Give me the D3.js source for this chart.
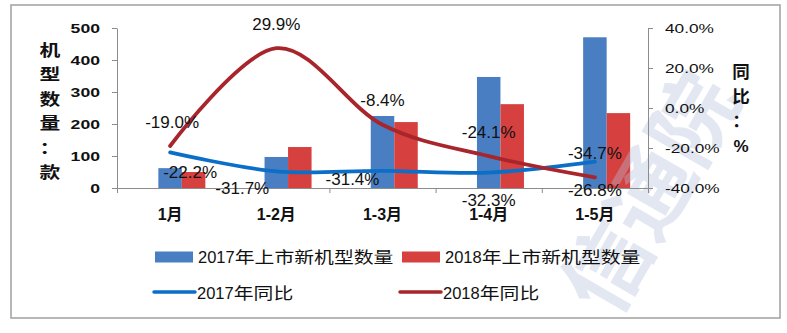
<!DOCTYPE html>
<html>
<head>
<meta charset="utf-8">
<script src="https://cdn.jsdelivr.net/npm/d3@7/dist/d3.min.js"></script>
<style>
  html, body { margin: 0; padding: 0; background: #fff; }
  svg { display: block; }
</style>
</head>
<body>
<svg id="chart" width="787" height="333"></svg>
<script>
// ---------------- data ----------------
const categories = ["1月", "1-2月", "1-3月", "1-4月", "1-5月"];
const models2017 = [62, 97, 225, 347, 471];
const models2018 = [50, 128, 206, 262, 234];
const yoy2017 = [-22.2, -31.7, -31.4, -32.3, -26.8];
const yoy2018 = [-19.0, 29.9, -8.4, -24.1, -34.7];
const leftTicks = [0, 100, 200, 300, 400, 500];
const rightTicks = [-40, -20, 0, 20, 40];
const seriesNames = ["2017年上市新机型数量", "2018年上市新机型数量", "2017年同比", "2018年同比"];
const leftTitle = "机型数量：款";
const rightTitle = "同比：%";

// ---------------- styles ----------------
const C = {
  bar17: "#4a7ec2",
  bar18: "#d6403f",
  line17: "#0b6fc8",
  line18: "#a8262b",
  axis: "#8c8c8c",
  frame: "#a6a6a6",
  text: "#111"
};
const LATIN = "'Liberation Sans', Arial, sans-serif";
const CJK = "'Noto Sans CJK SC', sans-serif";

const svg = d3.select("#chart");

// outer frame
svg.append("rect").attr("x", 11).attr("y", 5).attr("width", 769).attr("height", 313)
  .attr("fill", "#fff").attr("stroke", C.frame).attr("stroke-width", 1.6);

// ---------------- helpers ----------------
const cjkRe = /[\u3000-\u9fff\uff00-\uffef]+|[^\u3000-\u9fff\uff00-\uffef]+/g;
function richText(parent, str, o) {
  const g = parent.append("g").attr("transform", `translate(${o.x},${o.y})`);
  const inner = g.append("g");
  let cursor = 0;
  (str.match(cjkRe) || []).forEach(run => {
    const isCjk = /[\u3000-\u9fff\uff00-\uffef]/.test(run);
    const s = isCjk ? (o.cjkScale || 1) : (o.latinScale || 1);
    const t = inner.append("text")
      .attr("transform", `translate(${cursor},0) scale(${s},1)`)
      .attr("fill", o.fill || C.text)
      .style("font-family", isCjk ? CJK : LATIN)
      .style("font-size", (isCjk ? (o.cjkSize || o.size) : o.size) + "px")
      .style("font-weight", o.weight || "normal")
      .text(run);
    cursor += t.node().getComputedTextLength() * s;
  });
  let shift = 0;
  if (o.anchor === "middle") shift = -cursor / 2;
  else if (o.anchor === "end") shift = -cursor;
  inner.attr("transform", `translate(${shift},0)`);
  return g;
}

// ---------------- scales ----------------
const plot = { left: 117, right: 648, top: 28, bottom: 188 };
const x = d3.scaleBand().domain(categories).range([plot.left, plot.right]).padding(0);
const bw = x.bandwidth();
const xInner = d3.scaleBand().domain(["_", "2017", "2018"]).range([bw * 0.168, bw * 0.832]).padding(0);
const y = d3.scaleLinear().domain([0, 500]).range([plot.bottom, plot.top]);
const y2 = d3.scaleLinear().domain([-40, 40]).range([plot.bottom, plot.top]);
const xEdge = d3.scaleLinear().domain([0, categories.length]).range([plot.left, plot.right]);

// ---------------- bars ----------------
const barG = svg.append("g");
categories.forEach((c, i) => {
  barG.append("rect")
    .attr("x", x(c) + xInner("2017")).attr("width", xInner.bandwidth())
    .attr("y", y(models2017[i])).attr("height", y(0) - y(models2017[i]))
    .attr("fill", C.bar17);
  barG.append("rect")
    .attr("x", x(c) + xInner("2018")).attr("width", xInner.bandwidth())
    .attr("y", y(models2018[i])).attr("height", y(0) - y(models2018[i]))
    .attr("fill", C.bar18);
});

// ---------------- watermark (faint) ----------------
svg.append("text")
  .attr("transform", "translate(645,190) rotate(-60)")
  .attr("text-anchor", "middle")
  .attr("dominant-baseline", "central")
  .style("font-family", CJK).style("font-weight", "bold").style("font-size", "86px")
  .attr("fill", "#b4c2de").attr("opacity", 0.38)
  .text("信通院");

// ---------------- axes ----------------
function styleAxis(g) {
  g.selectAll("path, line").attr("stroke", C.axis).attr("stroke-width", 1);
  g.selectAll("text").remove();
}
svg.append("g").attr("transform", `translate(${plot.left},0)`)
  .call(d3.axisLeft(y).tickValues(leftTicks).tickSize(5).tickSizeOuter(0).tickFormat(""))
  .call(styleAxis);
svg.append("g").attr("transform", `translate(${plot.right},0)`)
  .call(d3.axisRight(y2).tickValues(rightTicks).tickSize(5).tickSizeOuter(0).tickFormat(""))
  .call(styleAxis);
svg.append("g").attr("transform", `translate(0,${plot.bottom})`)
  .call(d3.axisBottom(xEdge).tickValues(d3.range(categories.length + 1)).tickSize(5).tickSizeOuter(0).tickFormat(""))
  .call(styleAxis);

// tick labels
leftTicks.forEach(v => richText(svg, String(v), {
  x: 100, y: y(v) + 4.5, size: 12.6, weight: "bold", anchor: "end", latinScale: 1.4
}));
rightTicks.forEach(v => richText(svg, v.toFixed(1) + "%", {
  x: 665, y: y2(v) + 4.6, size: 13, anchor: "start", latinScale: 1.33
}));
categories.forEach(c => richText(svg, c, {
  x: x(c) + bw / 2, y: 220, size: 16, cjkSize: 16, weight: "bold", anchor: "middle"
}));

// axis titles (vertical)
Array.from(leftTitle).forEach((ch, i) => richText(svg, ch, {
  x: 50, y: 56 + i * 24.4, size: 16, cjkSize: 16, weight: "bold", anchor: "middle", cjkScale: 1.3
}));
Array.from(rightTitle).forEach((ch, i) => richText(svg, ch, {
  x: 741, y: 78 + i * 24.5, size: 17, cjkSize: 17.5, weight: "bold", anchor: "middle"
}));

// ---------------- lines ----------------
const line = d3.line()
  .x((d, i) => x(categories[i]) + bw / 2)
  .y(d => y2(d))
  .curve(d3.curveCardinal.tension(0));
svg.append("path").datum(yoy2017).attr("d", line)
  .attr("fill", "none").attr("stroke", C.line17).attr("stroke-width", 3.8).attr("stroke-linecap", "round");
svg.append("path").datum(yoy2018).attr("d", line)
  .attr("fill", "none").attr("stroke", C.line18).attr("stroke-width", 3.8).attr("stroke-linecap", "round");

// data labels
const nudge17 = [[20, 20], [-34, 17], [-30, 8], [0, 27], [0, 28]];
const nudge18 = [[2, -24], [0, -24], [0, -25], [0, -24], [0, -24]];
function labels(vals, nudge) {
  vals.forEach((v, i) => {
    const cx = x(categories[i]) + bw / 2;
    svg.append("text")
      .attr("x", cx + nudge[i][0]).attr("y", y2(v) + nudge[i][1] + 6)
      .attr("text-anchor", "middle")
      .style("font-family", LATIN).style("font-size", "17px")
      .attr("fill", C.text)
      .text(v.toFixed(1) + "%");
  });
}
labels(yoy2017, nudge17);
labels(yoy2018, nudge18);

// ---------------- legend ----------------
const leg = svg.append("g");
const legItems = [
  { name: seriesNames[0], type: "rect", color: C.bar17, x: 155, y: 257 },
  { name: seriesNames[1], type: "rect", color: C.bar18, x: 402, y: 257 },
  { name: seriesNames[2], type: "line", color: C.line17, x: 154, y: 293 },
  { name: seriesNames[3], type: "line", color: C.line18, x: 400, y: 293 }
];
legItems.forEach(it => {
  if (it.type === "rect") {
    leg.append("rect").attr("x", it.x).attr("y", it.y - 5.5).attr("width", 38).attr("height", 11).attr("fill", it.color);
  } else {
    leg.append("line").attr("x1", it.x).attr("x2", it.x + 41).attr("y1", it.y - 1).attr("y2", it.y - 1)
      .attr("stroke", it.color).attr("stroke-width", 3.5).attr("stroke-linecap", "round");
  }
  richText(leg, it.name, {
    x: it.x + 43, y: it.y + 6, size: 16.5, cjkSize: 16, anchor: "start", cjkScale: 1.24
  });
});
</script>
</body>
</html>
